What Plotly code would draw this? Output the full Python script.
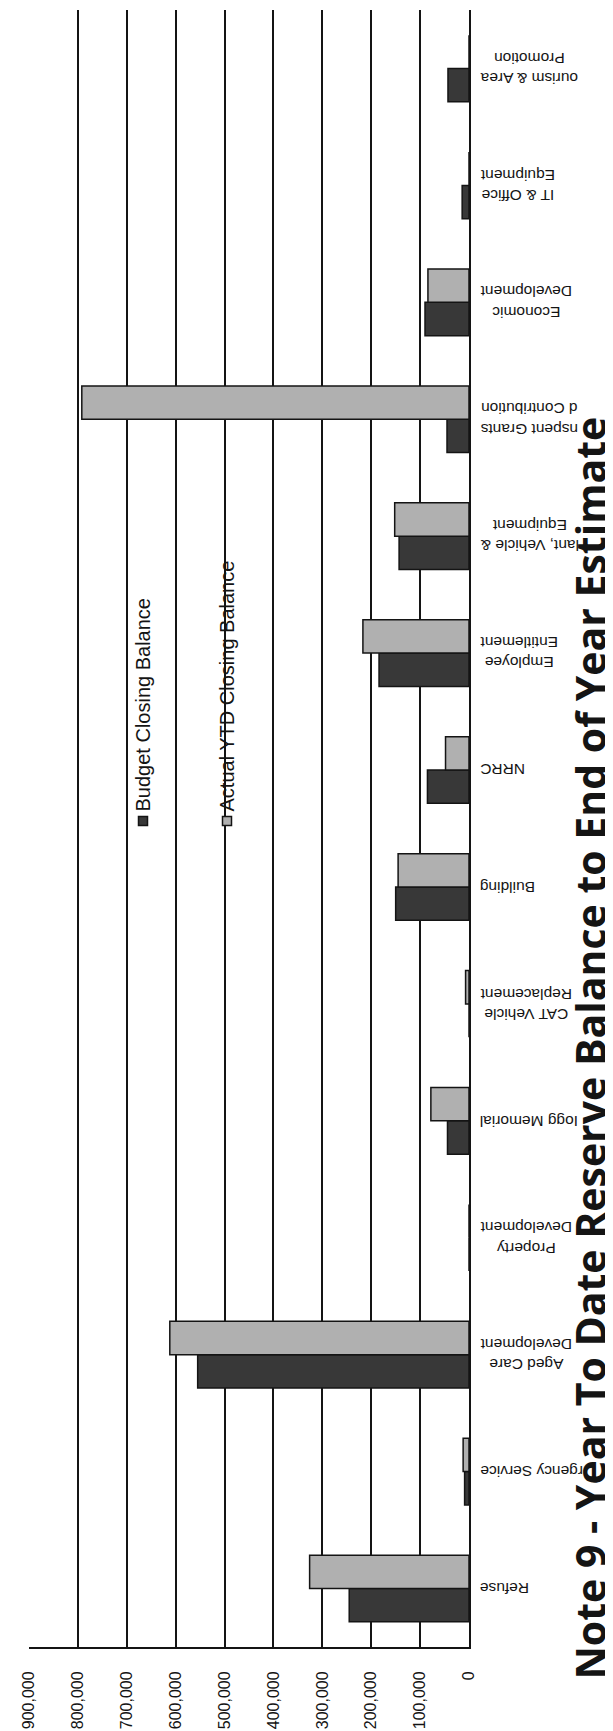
import plotly.graph_objects as go

# ---- data (bottom to top, as drawn) ----
categories = [
    "Refuse",
    "rgency Service",
    "Aged Care<br>Development",
    "Property<br>Development",
    "Iogg Memorial",
    "CAT Vehicle<br>Replacement",
    "Building",
    "NRRC",
    "Employee<br>Entitlement",
    "lant, Vehicle &<br>Equipment",
    "nspent Grants<br>d Contribution",
    "Economic<br>Development",
    "IT & Office<br>Equipment",
    "ourism & Area<br>Promotion",
]
budget_closing = [245000, 9000, 555000, 0, 44000, 0, 150000, 85000, 184000, 143000, 45000, 90000, 14000, 43000]
actual_ytd_closing = [326000, 12000, 612000, 0, 78000, 7000, 145000, 48000, 217000, 152000, 792000, 84000, 0, 0]
series_names = ["Budget Closing Balance", "Actual YTD Closing Balance"]
value_ticks = [0, 100000, 200000, 300000, 400000, 500000, 600000, 700000, 800000, 900000]
value_tick_labels = ["0", "100,000", "200,000", "300,000", "400,000", "500,000",
                     "600,000", "700,000", "800,000", "900,000"]
title_text = "Note 9 - Year To Date Reserve Balance to End of Year Estimate"

# ---- layout constants ----
W, H = 613, 1731
L, R, T, B = 21, 152, 2, 92
PW, PH = W - L - R, H - T - B
INK = "#141414"
DARK = "#383838"
LIGHT = "#b0b0b0"
SANS = "Liberation Sans, Arial, sans-serif"


def px_x(px):
    return (px - L) / PW


def px_y(py):
    return (H - B - py) / PH


fig = go.Figure()
fig.add_bar(y=categories, x=budget_closing, orientation="h", name=series_names[0],
            marker=dict(color=DARK, line=dict(color=INK, width=1.5)))
fig.add_bar(y=categories, x=actual_ytd_closing, orientation="h", name=series_names[1],
            marker=dict(color=LIGHT, line=dict(color=INK, width=1.5)))

fig.update_layout(
    width=W, height=H,
    margin=dict(l=L, r=R, t=T, b=B),
    paper_bgcolor="white", plot_bgcolor="white",
    barmode="group", bargap=0.43, bargroupgap=0,
    showlegend=False,
    font=dict(family=SANS, color=INK),
)
fig.update_xaxes(
    range=[900000, 0], tickvals=value_ticks, ticktext=value_tick_labels,
    tickangle=-90, ticks="", ticklabelstandoff=16, automargin=False,
    tickfont=dict(family=SANS, size=16, color=INK),
    showgrid=True, gridcolor=INK, gridwidth=2,
    showline=True, linecolor=INK, linewidth=2, zeroline=False,
)
fig.update_yaxes(
    type="category", side="right", showticklabels=False, ticks="", automargin=False,
    showgrid=False, showline=True, linecolor=INK, linewidth=2, zeroline=False,
)

annotations = []
for c in categories:
    annotations.append(dict(
        x=1, xref="paper", xshift=9, xanchor="left",
        y=c, yref="y", yanchor="middle",
        text=c, showarrow=False, textangle=180, align="center",
        font=dict(family=SANS, size=15.5, color=INK),
    ))

# legend (rotated text with swatches)
legend_x_px = [135, 219]
legend_fill = [DARK, LIGHT]
marker_y_px = 813
shapes = []
for name, lx, fill in zip(series_names, legend_x_px, legend_fill):
    shapes.append(dict(
        type="rect", xref="paper", yref="paper",
        xsizemode="pixel", ysizemode="pixel",
        xanchor=px_x(lx), yanchor=px_y(marker_y_px),
        x0=-4.5, x1=4.5, y0=-4.5, y1=4.5,
        fillcolor=fill, line=dict(color=INK, width=1.5),
    ))
    annotations.append(dict(
        x=px_x(lx), xref="paper", xanchor="center",
        y=px_y(marker_y_px - 7), yref="paper", yanchor="bottom",
        text=name, showarrow=False, textangle=-90,
        font=dict(family=SANS, size=20, color=INK),
    ))

annotations.append(dict(
    x=px_x(611), xref="paper", xanchor="right",
    y=px_y(407), yref="paper", yanchor="top",
    text="<b>" + title_text + "</b>", showarrow=False, textangle=-90,
    font=dict(family="Open Sans, Lato, sans-serif", size=41, color=INK),
))

fig.update_layout(annotations=annotations, shapes=shapes)
fig.write_html("out.html")
